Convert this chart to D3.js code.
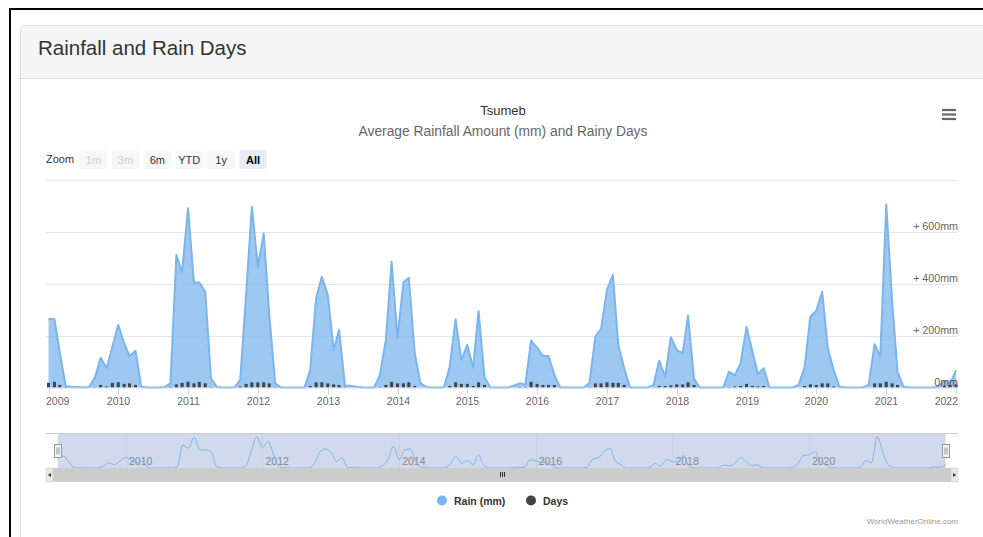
<!DOCTYPE html>
<html>
<head>
<meta charset="utf-8">
<script src="https://cdn.jsdelivr.net/npm/d3@7"></script>
<style>
  body { margin: 0; background: #fff; }
  svg { display: block; font-family: "Liberation Sans", Arial, sans-serif; }
</style>
</head>
<body>
<div id="chart"></div>
<script>
// monthly values, Jan 2009 .. Jan 2022
const startMonth = new Date(2009, 0, 1)
const endMonth = new Date(2022, 0, 1)

const rainMm = [
  264, 264, 135, 5, 3, 2, 0, 2, 38, 115, 74, 157,      // 2009
  241, 170, 121, 142, 3, 0, 0, 0, 2, 16, 511, 444,     // 2010
  691, 405, 405, 369, 35, 2, 0, 0, 0, 29, 360, 697,    // 2011
  466, 594, 280, 16, 0, 0, 0, 0, 0, 67, 344, 427,      // 2012
  357, 145, 222, 7, 7, 3, 0, 0, 0, 48, 183, 485,       // 2013
  192, 405, 423, 132, 16, 2, 0, 0, 0, 80, 263, 106,    // 2014
  164, 76, 295, 40, 0, 0, 0, 0, 7, 16, 12, 181,        // 2015
  154, 121, 121, 48, 0, 0, 0, 0, 0, 16, 196, 226,      // 2016
  376, 434, 164, 74, 0, 0, 0, 0, 9, 103, 42, 194,      // 2017
  145, 132, 277, 35, 0, 0, 0, 0, 0, 61, 48, 93,        // 2018
  234, 138, 52, 74, 0, 0, 0, 0, 0, 10, 80, 273,        // 2019
  296, 369, 151, 67, 3, 0, 0, 0, 0, 10, 167, 119,      // 2020
  706, 330, 60, 3, 0, 0, 0, 0, 0, 3, 25, 15,           // 2021
  67                                                   // 2022
]

const rainDays = [
  9, 11, 5, 1, 0, 0, 0, 0, 1, 5, 2, 9,
  10, 7, 8, 5, 0, 0, 0, 0, 0, 1, 6, 9,
  11, 8, 11, 8, 1, 0, 0, 0, 0, 2, 7, 10,
  10, 10, 8, 1, 0, 0, 0, 0, 0, 3, 10, 10,
  8, 6, 5, 1, 0, 0, 0, 0, 0, 1, 5, 11,
  8, 8, 10, 3, 0, 0, 0, 0, 0, 3, 10, 7,
  7, 3, 10, 5, 0, 0, 0, 0, 0, 1, 1, 11,
  7, 5, 5, 5, 0, 0, 0, 0, 0, 1, 8, 8,
  10, 9, 9, 5, 0, 0, 0, 0, 0, 3, 3, 4,
  6, 6, 10, 5, 0, 0, 0, 0, 0, 1, 2, 3,
  7, 3, 2, 3, 0, 0, 0, 0, 0, 0, 3, 6,
  5, 8, 8, 2, 0, 0, 0, 0, 0, 0, 8, 8,
  11, 8, 5, 0, 0, 0, 0, 0, 0, 0, 3, 5,
  6
]

const yearTicks = [2009, 2010, 2011, 2012, 2013, 2014, 2015, 2016, 2017, 2018, 2019, 2020, 2021, 2022]
const navYearTicks = [2010, 2012, 2014, 2016, 2018, 2020]
const mmTicks = [200, 400, 600]
const gridTicks = [200, 400, 600, 800]
const zoomButtons = ['1m', '3m', '6m', 'YTD', '1y', 'All']

const months = d3.timeMonth.range(startMonth, d3.timeMonth.offset(endMonth, 1))
const data = months.map((d, i) => ({ date: d, rain: rainMm[i], days: rainDays[i] }))

const W = 983, H = 537
const plotL = 46, plotR = 958, plotT = 180, plotB = 387.5

const svg = d3.select('#chart').append('svg').attr('width', W).attr('height', H)

// page frame + panel
svg.append('rect').attr('x', 10).attr('y', 9).attr('width', 990).attr('height', 540)
  .attr('fill', '#fff').attr('stroke', '#000').attr('stroke-width', 2)
svg.append('rect').attr('x', 20.5).attr('y', 25.5).attr('width', 980).attr('height', 530)
  .attr('fill', '#fff').attr('stroke', '#ddd').attr('rx', 3)
svg.append('rect').attr('x', 21).attr('y', 26).attr('width', 980).attr('height', 52)
  .attr('fill', '#f5f5f5')
svg.append('line').attr('x1', 21).attr('x2', 983).attr('y1', 78.5).attr('y2', 78.5).attr('stroke', '#ddd')
svg.append('text').attr('x', 38).attr('y', 55).attr('font-size', 20.5).attr('fill', '#333')
  .text('Rainfall and Rain Days')

// chart titles
svg.append('text').attr('x', 503).attr('y', 115).attr('text-anchor', 'middle')
  .attr('font-size', 13).attr('fill', '#333').text('Tsumeb')
svg.append('text').attr('x', 503).attr('y', 136).attr('text-anchor', 'middle')
  .attr('font-size', 13.8).attr('fill', '#666').text('Average Rainfall Amount (mm) and Rainy Days')

// menu icon
const menu = svg.append('g').attr('stroke', '#666').attr('stroke-width', 2.2)
;[110, 114.5, 119].forEach(y => menu.append('line').attr('x1', 942).attr('x2', 956).attr('y1', y).attr('y2', y))

// range selector
svg.append('text').attr('x', 46).attr('y', 163).attr('font-size', 11).attr('fill', '#333').text('Zoom')
zoomButtons.forEach((b, i) => {
  const g = svg.append('g').attr('transform', `translate(${80 + i * 31.9},150)`)
  const disabled = i < 2, active = b === 'All'
  g.append('rect').attr('width', 27).attr('height', 19).attr('rx', 2)
    .attr('fill', active ? '#e6ebf5' : '#f7f7f7')
  g.append('text').attr('x', 13.5).attr('y', 13.5).attr('text-anchor', 'middle')
    .attr('font-size', 11).attr('font-weight', active ? 'bold' : 'normal')
    .attr('fill', disabled ? '#ccc' : (active ? '#000' : '#333')).text(b)
})

// scales
const x = d3.scaleTime().domain([startMonth, endMonth]).range([48.5, 956])
const y = d3.scaleLinear().domain([0, 800]).range([plotB, plotT])
const yDays = d3.scaleLinear().domain([0, 400]).range([plotB, plotT])

// grid
svg.append('g').selectAll('line').data(gridTicks).join('line')
  .attr('x1', plotL).attr('x2', plotR)
  .attr('y1', d => Math.round(y(d)) + 0.5).attr('y2', d => Math.round(y(d)) + 0.5)
  .attr('stroke', '#e6e6e6')

// rain area
const area = d3.area().x(d => x(d.date)).y0(plotB).y1(d => y(d.rain))
const line = d3.line().x(d => x(d.date)).y(d => y(d.rain))
svg.append('path').datum(data).attr('d', area).attr('fill', '#7cb5ec').attr('fill-opacity', 0.75)
svg.append('path').datum(data).attr('d', line).attr('fill', 'none')
  .attr('stroke', '#7cb5ec').attr('stroke-width', 2).attr('stroke-linejoin', 'round')

// days columns
svg.append('g').selectAll('rect').data(data.filter(d => d.days > 0)).join('rect')
  .attr('x', d => x(d.date) - 1.5).attr('width', 3)
  .attr('y', d => yDays(d.days)).attr('height', d => plotB - yDays(d.days))
  .attr('fill', '#434348')

// x axis
svg.append('line').attr('x1', plotL).attr('x2', plotR).attr('y1', plotB + 0.5).attr('y2', plotB + 0.5)
  .attr('stroke', '#ccd6eb')
const xt = svg.append('g')
yearTicks.forEach((yr, i) => {
  const px = Math.round(x(new Date(yr, 0, 1))) + 0.5
  xt.append('line').attr('x1', px).attr('x2', px).attr('y1', plotB).attr('y2', plotB + 7)
    .attr('stroke', '#ccd6eb')
  const first = i === 0, last = i === yearTicks.length - 1
  xt.append('text').attr('x', first ? plotL : last ? plotR : px).attr('y', 405)
    .attr('text-anchor', first ? 'start' : last ? 'end' : 'middle')
    .attr('font-size', 10.5).attr('fill', '#666').text(yr)
})

// y axis labels (inside, right)
svg.append('g').selectAll('text').data(mmTicks).join('text')
  .attr('x', plotR).attr('y', d => y(d) - 1.5).attr('text-anchor', 'end')
  .attr('font-size', 10.7).attr('fill', '#666').text(d => '+ ' + d + 'mm')
svg.append('text').attr('x', plotR).attr('y', plotB - 1.5).attr('text-anchor', 'end')
  .attr('font-size', 10.7).attr('fill', '#555').text('0mm')

// navigator
const navT = 434, navB = 468
const xn = d3.scaleTime().domain([startMonth, endMonth]).range([57.7, 945.6])
const yn = d3.scaleLinear().domain([0, 760]).range([navB, navT])
svg.append('rect').attr('x', xn.range()[0]).attr('y', navT).attr('width', xn.range()[1] - xn.range()[0])
  .attr('height', navB - navT).attr('fill', 'rgba(102,133,194,0.3)')
svg.append('g').selectAll('line').data(navYearTicks).join('line')
  .attr('x1', d => Math.round(xn(new Date(d, 0, 1))) + 0.5).attr('x2', d => Math.round(xn(new Date(d, 0, 1))) + 0.5)
  .attr('y1', navT).attr('y2', navB).attr('stroke', '#c8cfdd')
svg.append('g').selectAll('text').data(navYearTicks).join('text')
  .attr('x', d => xn(new Date(d, 0, 1)) + 3).attr('y', 465)
  .attr('font-size', 10.5).attr('fill', '#888').text(d => d)
const navLine = d3.line().x(d => xn(d.date)).y(d => yn(d.rain)).curve(d3.curveMonotoneX)
svg.append('path').datum(data).attr('d', navLine).attr('fill', 'none')
  .attr('stroke', '#7cb5ec').attr('stroke-width', 1)
svg.append('line').attr('x1', plotL).attr('x2', plotR).attr('y1', navT - 0.5).attr('y2', navT - 0.5)
  .attr('stroke', '#ccc')
// handles
xn.range().forEach(hx => {
  const g = svg.append('g').attr('transform', `translate(${Math.round(hx) - 3.5},444.5)`)
  g.append('rect').attr('width', 7).attr('height', 13).attr('fill', '#f2f2f2').attr('stroke', '#999')
  g.append('line').attr('x1', 2.5).attr('x2', 2.5).attr('y1', 3).attr('y2', 10).attr('stroke', '#999')
  g.append('line').attr('x1', 4.5).attr('x2', 4.5).attr('y1', 3).attr('y2', 10).attr('stroke', '#999')
})

// scrollbar
svg.append('rect').attr('x', plotL).attr('y', navB).attr('width', plotR - plotL).attr('height', 14).attr('fill', '#cccccc')
;[plotL, plotR - 7].forEach((bx, i) => {
  svg.append('rect').attr('x', bx).attr('y', navB).attr('width', 7).attr('height', 14)
    .attr('fill', '#e6e6e6').attr('stroke', '#ccc').attr('stroke-width', 0.5)
  const cx = bx + 3.5
  svg.append('path').attr('d', i === 0
      ? `M${cx + 1.5},${navB + 5} L${cx - 1.5},${navB + 7} L${cx + 1.5},${navB + 9} Z`
      : `M${cx - 1.5},${navB + 5} L${cx + 1.5},${navB + 7} L${cx - 1.5},${navB + 9} Z`)
    .attr('fill', '#333')
})
;[-2, 0, 2].forEach(o => {
  svg.append('line').attr('x1', 502.5 + o).attr('x2', 502.5 + o).attr('y1', navB + 4).attr('y2', navB + 9)
    .attr('stroke', '#333')
})

// legend
const legend = [{ name: 'Rain (mm)', color: '#7cb5ec', x: 442 }, { name: 'Days', color: '#434348', x: 531 }]
legend.forEach(l => {
  svg.append('circle').attr('cx', l.x).attr('cy', 500.5).attr('r', 5).attr('fill', l.color)
  svg.append('text').attr('x', l.x + 12).attr('y', 504.5).attr('font-size', 10.5)
    .attr('font-weight', 'bold').attr('fill', '#333').text(l.name)
})

// credits
svg.append('text').attr('x', plotR).attr('y', 524).attr('text-anchor', 'end')
  .attr('font-size', 8).attr('fill', '#999').text('WorldWeatherOnline.com')
</script>
</body>
</html>
